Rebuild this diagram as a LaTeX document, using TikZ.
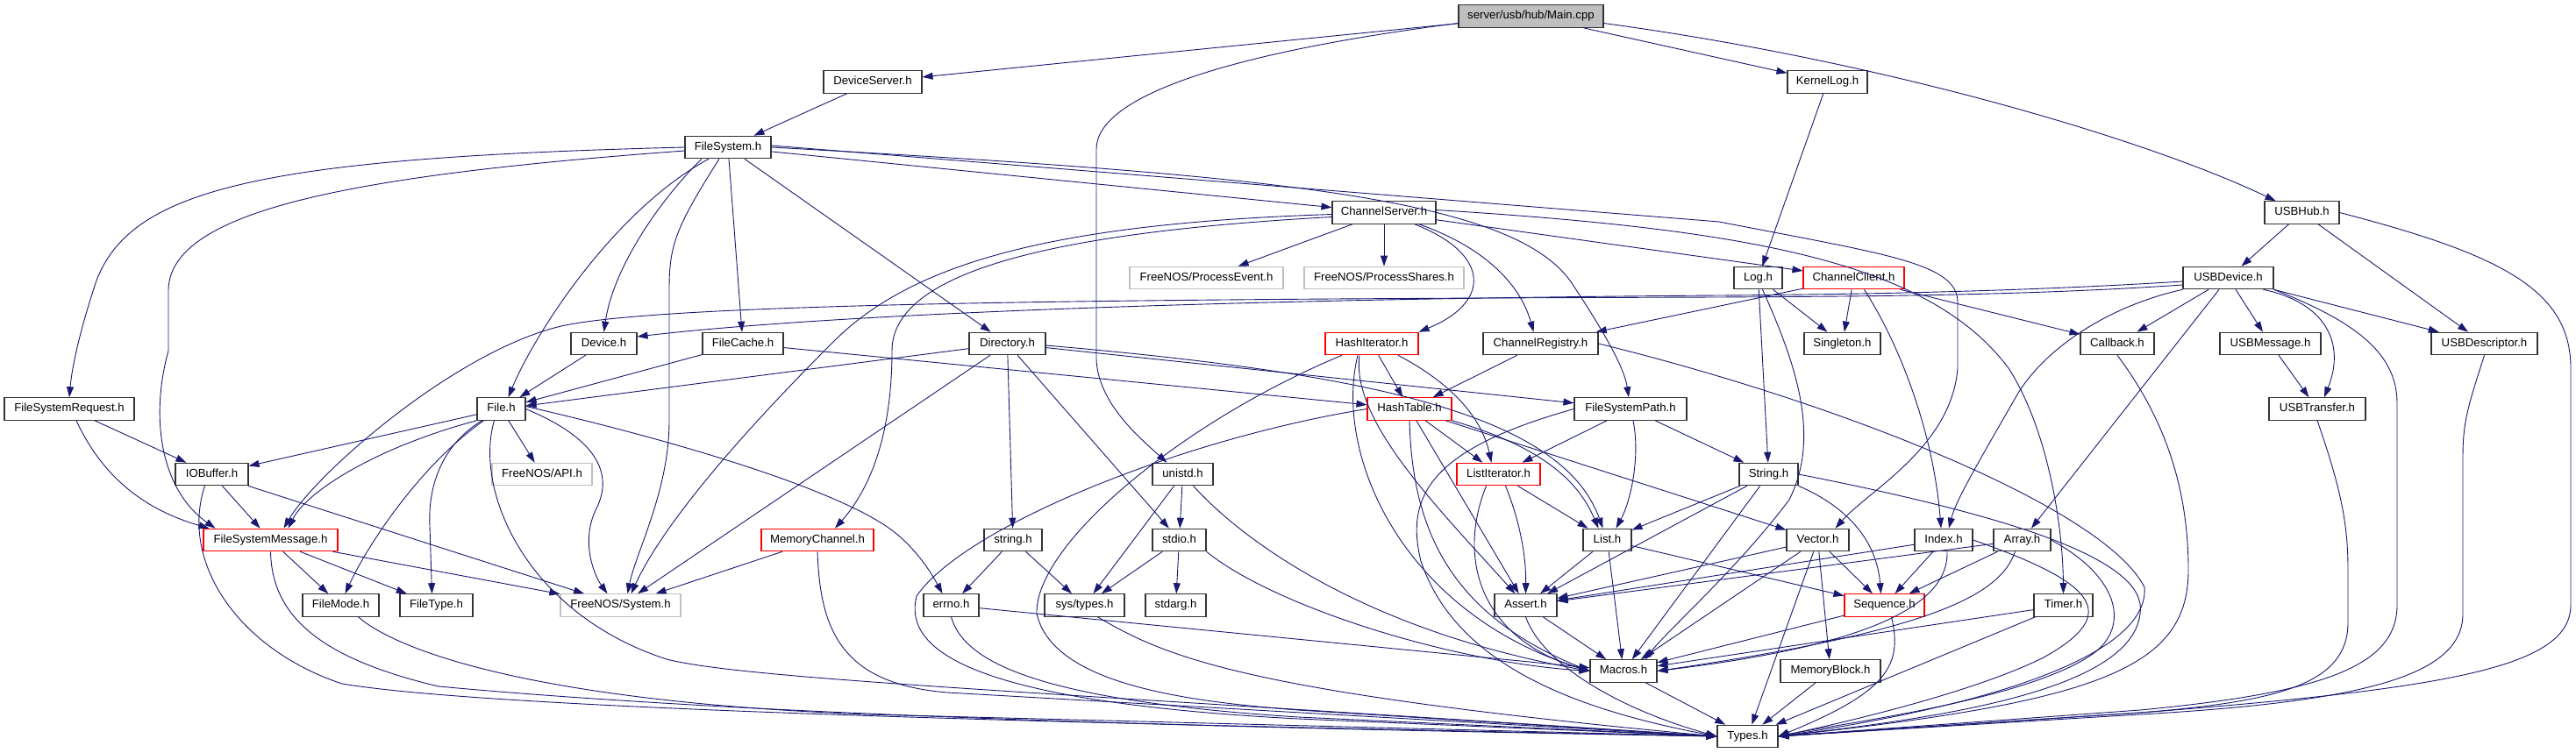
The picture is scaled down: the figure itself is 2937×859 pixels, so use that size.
\documentclass[tikz,border=0pt]{standalone}
\usepackage{fontspec}
\setmainfont{Liberation Sans}
\usetikzlibrary{arrows.meta}
\definecolor{edgecol}{HTML}{191970}
\definecolor{graybd}{HTML}{BFBFBF}
\definecolor{mainfill}{HTML}{BFBFBF}
\tikzset{
  hdr/.style={draw=black!80, line width=1.1pt, fill=white, minimum height=25.5pt, inner sep=0pt,
    font=\fontsize{13.2}{15}\selectfont, text=black, text height=9.6pt, text depth=2.8pt},
  redhdr/.style={hdr, draw=red},
  sysbox/.style={hdr, draw=graybd},
  rootbox/.style={hdr, fill=mainfill},
  dep/.style={draw=edgecol, line width=0.9pt, -{Triangle[length=12pt,width=8pt]}},
}
\begin{document}
\begin{tikzpicture}[x=1pt,y=-1pt]
\useasboundingbox (0,0) rectangle (2937,859);
% ---- nodes
\node[rootbox, minimum width=165pt] (main) at (1745.5,18.5) {server/usb/hub/Main.cpp};
\node[hdr, minimum width=112pt] (devserver) at (995,93.5) {DeviceServer.h};
\node[hdr, minimum width=91pt] (kernellog) at (2083.5,93.5) {KernelLog.h};
\node[hdr, minimum width=98pt] (filesystem) at (830,168) {FileSystem.h};
\node[hdr, minimum width=118pt] (chanserver) at (1578,242.5) {ChannelServer.h};
\node[hdr, minimum width=85pt] (usbhub) at (2624.5,242.5) {USBHub.h};
\node[sysbox, minimum width=175pt] (procevent) at (1375.5,317) {FreeNOS/ProcessEvent.h};
\node[sysbox, minimum width=182pt] (procshares) at (1578,317) {FreeNOS/ProcessShares.h};
\node[hdr, minimum width=55pt] (log) at (2004.5,317) {Log.h};
\node[redhdr, minimum width=115pt] (chanclient) at (2113.5,317) {ChannelClient.h};
\node[hdr, minimum width=103pt] (usbdevice) at (2540.5,317) {USBDevice.h};
\node[hdr, minimum width=75pt] (device) at (688.5,392) {Device.h};
\node[hdr, minimum width=92pt] (filecache) at (847,392) {FileCache.h};
\node[hdr, minimum width=87pt] (directory) at (1148.5,392) {Directory.h};
\node[redhdr, minimum width=106pt] (hashiter) at (1564,392) {HashIterator.h};
\node[hdr, minimum width=131pt] (chanreg) at (1756.5,392) {ChannelRegistry.h};
\node[hdr, minimum width=87pt] (singleton) at (2100.5,392) {Singleton.h};
\node[hdr, minimum width=84pt] (callback) at (2414,392) {Callback.h};
\node[hdr, minimum width=115pt] (usbmessage) at (2588.5,392) {USBMessage.h};
\node[hdr, minimum width=121pt] (usbdesc) at (2832.5,392) {USBDescriptor.h};
\node[hdr, minimum width=148pt] (fsrequest) at (79,466.5) {FileSystemRequest.h};
\node[hdr, minimum width=55pt] (file) at (571.5,466.5) {File.h};
\node[redhdr, minimum width=96pt] (hashtable) at (1607,466.5) {HashTable.h};
\node[hdr, minimum width=128pt] (fspath) at (1859,466.5) {FileSystemPath.h};
\node[hdr, minimum width=110pt] (usbtransfer) at (2642,466.5) {USBTransfer.h};
\node[hdr, minimum width=83pt] (iobuffer) at (241.5,541) {IOBuffer.h};
\node[sysbox, minimum width=114pt] (api) at (618,541) {FreeNOS/API.h};
\node[hdr, minimum width=69pt] (unistd) at (1348.5,541) {unistd.h};
\node[redhdr, minimum width=95pt] (listiter) at (1708.5,541) {ListIterator.h};
\node[hdr, minimum width=67pt] (string) at (2016.5,541) {String.h};
\node[redhdr, minimum width=153pt] (fsmessage) at (308.5,616) {FileSystemMessage.h};
\node[redhdr, minimum width=128pt] (memchan) at (932,616) {MemoryChannel.h};
\node[hdr, minimum width=66pt] (cstring) at (1155,616) {string.h};
\node[hdr, minimum width=61pt] (stdio) at (1344.5,616) {stdio.h};
\node[hdr, minimum width=55pt] (list) at (1832.5,616) {List.h};
\node[hdr, minimum width=71pt] (vector) at (2072.5,616) {Vector.h};
\node[hdr, minimum width=66pt] (index) at (2216,616) {Index.h};
\node[hdr, minimum width=65pt] (array) at (2305.5,616) {Array.h};
\node[hdr, minimum width=87pt] (filemode) at (388.5,690.5) {FileMode.h};
\node[hdr, minimum width=83pt] (filetype) at (497.5,690.5) {FileType.h};
\node[sysbox, minimum width=137pt] (system) at (707.5,690.5) {FreeNOS/System.h};
\node[hdr, minimum width=63pt] (errno) at (1084.5,690.5) {errno.h};
\node[hdr, minimum width=91pt] (systypes) at (1236.5,690.5) {sys/types.h};
\node[hdr, minimum width=69pt] (stdarg) at (1340.5,690.5) {stdarg.h};
\node[hdr, minimum width=71pt] (assert) at (1739.5,690.5) {Assert.h};
\node[redhdr, minimum width=91pt] (sequence) at (2148.5,690.5) {Sequence.h};
\node[hdr, minimum width=67pt] (timer) at (2352.5,690.5) {Timer.h};
\node[hdr, minimum width=76pt] (macros) at (1851,765.5) {Macros.h};
\node[hdr, minimum width=114pt] (memblock) at (2087,765.5) {MemoryBlock.h};
\node[hdr, minimum width=69pt] (types) at (1992.5,840) {Types.h};

% ---- edges: Main.cpp
\draw[dep] (main) -- (devserver);
\draw[dep] ([yshift=-8pt]main.west) .. controls (1400,60) and (1250,110) .. (1250,170) -- (1250,410) .. controls (1252,460) and (1300,500) .. ([xshift=-18pt]unistd.north);
\draw[dep] (main) -- (kernellog);
\draw[dep] ([yshift=-8pt]main.east) .. controls (2150,70) and (2450,160) .. ([xshift=-30pt]usbhub.north);
\draw[dep] (devserver) -- (filesystem);
\draw[dep] (kernellog) -- (log);
% FileSystem.h
\draw[dep] (filesystem) -- (chanserver);
\draw[dep] (filesystem.east) .. controls (1450,200) and (1720,225) .. (1790,320) .. controls (1830,380) and (1852,420) .. ([xshift=-2pt]fspath.north);
\draw[dep] ([yshift=2pt]filesystem.east) -- (1960,253) .. controls (2150,290) and (2232,300) .. (2232,345) -- (2232,420) .. controls (2225,510) and (2130,560) .. ([xshift=20pt]vector.north);
\draw[dep] (filesystem.west) .. controls (300,180) and (150,215) .. (110,320) .. controls (90,380) and (82,420) .. (fsrequest.north);
\draw[dep] ([yshift=-4pt]filesystem.west) .. controls (400,200) and (195,240) .. (192,330) -- (192,400) .. controls (170,480) and (185,560) .. ([xshift=-63pt]fsmessage.north);
\draw[dep] ([xshift=-30pt]filesystem.south) .. controls (760,220) and (700,300) .. (device.north);
\draw[dep] ([xshift=-22pt]filesystem.south) .. controls (700,240) and (610,380) .. ([xshift=8pt]file.north);
\draw[dep] ([xshift=-10pt]filesystem.south) .. controls (770,260) and (763,280) .. (763,330) -- (763,480) .. controls (763,560) and (725,630) .. ([xshift=8pt]system.north);
\draw[dep] (filesystem) -- (filecache);
\draw[dep] (filesystem) -- (directory);
% ChannelServer.h
\draw[dep] (chanserver) -- (procevent);
\draw[dep] (chanserver) -- (procshares);
\draw[dep] ([xshift=35pt]chanserver.south) .. controls (1700,290) and (1700,345) .. (hashiter.north east);
\draw[dep] ([xshift=40pt]chanserver.south) .. controls (1700,285) and (1735,330) .. ([xshift=-8pt]chanreg.north);
\draw[dep] (chanserver) -- (chanclient);
\draw[dep] ([yshift=3pt]chanserver.east) .. controls (2000,262) and (2200,300) .. (2290,420) .. controls (2335,490) and (2352,600) .. (timer.north);
\draw[dep] ([yshift=-2pt]chanserver.west) .. controls (1200,255) and (1040,300) .. (950,390) .. controls (860,480) and (760,590) .. ([xshift=12pt]system.north);
\draw[dep] ([yshift=-5pt]chanserver.west) .. controls (1200,265) and (1017,310) .. (1017,400) .. controls (1017,500) and (990,560) .. ([xshift=20pt]memchan.north);
% Log.h, ChannelClient.h
\draw[dep] (log) -- (singleton);
\draw[dep] (log) -- (string);
\draw[dep] ([xshift=5pt]log.south) .. controls (2050,420) and (2075,500) .. (2040,570) .. controls (1980,650) and (1900,720) .. ([xshift=25pt]macros.north);
\draw[dep] (chanclient) -- (chanreg);
\draw[dep] (chanclient) -- (singleton);
\draw[dep] (chanclient) -- (callback);
\draw[dep] ([xshift=12pt]chanclient.south) .. controls (2170,400) and (2205,500) .. ([xshift=-3pt]index.north);
% USBHub.h, USBDevice.h
\draw[dep] (usbhub) -- (usbdevice);
\draw[dep] (usbhub) -- (usbdesc);
\draw[dep] (usbhub.east) .. controls (2850,290) and (2931,330) .. (2931,420) -- (2931,690) .. controls (2931,760) and (2800,785) .. (2440,813) -- (types.east);
\draw[dep] (usbdevice) -- (usbmessage);
\draw[dep] (usbdevice) -- (usbdesc);
\draw[dep] (usbdevice) -- (callback);
\draw[dep] (usbdevice) -- (array);
\draw[dep] (usbdevice.south west) .. controls (2400,350) and (2330,400) .. (2300,450) .. controls (2260,520) and (2230,570) .. ([xshift=6pt]index.north);
\draw[dep] ([xshift=40pt]usbdevice.south) .. controls (2650,345) and (2675,390) .. ([xshift=8pt]usbtransfer.north);
\draw[dep] (usbdevice.south east) .. controls (2680,365) and (2733,400) .. (2733,460) -- (2733,690) .. controls (2733,760) and (2650,790) .. (2440,810) -- (types.east);
\draw[dep] ([yshift=-4pt]usbdevice.west) .. controls (2300,333) and (2100,336) .. (1960,337) .. controls (1400,341) and (950,358) .. ([yshift=8pt]device.east);
\draw[dep] ([yshift=-8pt]usbdevice.west) .. controls (2300,338) and (2100,338) .. (1960,339) .. controls (1300,341) and (760,345) .. (640,372) .. controls (520,400) and (360,540) .. ([xshift=15pt]fsmessage.north);
\draw[dep] (usbmessage) -- (usbtransfer);
\draw[dep] (usbtransfer.south) .. controls (2670,560) and (2677,600) .. (2677,650) -- (2677,710) .. controls (2677,780) and (2600,800) .. (2440,813) -- (types.east);
\draw[dep] (usbdesc.south) .. controls (2815,460) and (2808,480) .. (2808,520) -- (2808,700) .. controls (2808,770) and (2700,800) .. (2440,815) -- (types.east);
\draw[dep] (callback.south) .. controls (2470,480) and (2495,560) .. (2495,650) .. controls (2495,760) and (2400,800) .. (types.east);
% ChannelRegistry.h, HashIterator.h, HashTable.h
\draw[dep] (chanreg) -- (hashtable);
\draw[dep] (chanreg.east) .. controls (2100,460) and (2400,580) .. (2445,670) .. controls (2450,740) and (2300,800) .. (types.east);
\draw[dep] (hashiter) -- (hashtable);
\draw[dep] ([xshift=30pt]hashiter.south) .. controls (1660,440) and (1690,480) .. ([xshift=-8pt]listiter.north);
\draw[dep] ([xshift=-14pt]hashiter.south) .. controls (1540,480) and (1640,580) .. ([xshift=-12pt]assert.north);
\draw[dep] ([xshift=-16pt]hashiter.south) .. controls (1520,520) and (1600,700) .. (macros.west);
\draw[dep] ([xshift=-34pt]hashiter.south) .. controls (1350,480) and (1180,620) .. (1182,700) .. controls (1200,780) and (1350,800) .. (1480,810) -- (types.west);
\draw[dep] (hashtable) -- (listiter);
\draw[dep] (hashtable.south east) .. controls (1760,510) and (1800,550) .. ([xshift=-10pt]list.north);
\draw[dep] (hashtable) -- (assert);
\draw[dep] (hashtable.south) .. controls (1610,600) and (1650,700) .. (macros.west);
\draw[dep] (hashtable) -- (vector);
\draw[dep] (hashtable.west) .. controls (1350,500) and (1100,600) .. (1045,680) .. controls (1030,740) and (1100,800) .. (1480,820) -- (types.west);
% FileSystemPath.h, Directory.h, FileCache.h, Device.h
\draw[dep] (fspath) -- (listiter);
\draw[dep] ([xshift=3pt]fspath.south) .. controls (1870,520) and (1860,570) .. ([xshift=10pt]list.north);
\draw[dep] (fspath) -- (string);
\draw[dep] (fspath.west) .. controls (1640,510) and (1600,560) .. (1620,640) .. controls (1660,760) and (1800,810) .. (types.west);
\draw[dep] (directory) -- (file);
\draw[dep] (directory) -- (system);
\draw[dep] (directory) -- (cstring);
\draw[dep] (directory) -- (stdio);
\draw[dep] (directory) -- (fspath);
\draw[dep] ([yshift=-2pt]directory.east) .. controls (1550,425) and (1780,470) .. ([xshift=-5pt]list.north);
\draw[dep] (filecache) -- (file);
\draw[dep] (filecache) -- (hashtable);
\draw[dep] (device) -- (file);
% File.h
\draw[dep] (file) -- (iobuffer);
\draw[dep] (file.south west) .. controls (430,510) and (350,560) .. ([xshift=20pt]fsmessage.north);
\draw[dep] ([xshift=-20pt]file.south) .. controls (480,530) and (420,620) .. ([xshift=5pt]filemode.north);
\draw[dep] ([xshift=-22pt]file.south) .. controls (500,510) and (488,560) .. (490,600) -- ([xshift=-5pt]filetype.north);
\draw[dep] (file) -- (api);
\draw[dep] (file.east) .. controls (680,500) and (700,540) .. (680,580) .. controls (660,620) and (680,660) .. ([xshift=-15pt]system.north);
\draw[dep] ([yshift=3pt]file.east) .. controls (800,510) and (950,560) .. (1010,600) .. controls (1040,620) and (1060,650) .. ([xshift=-10pt]errno.north);
\draw[dep] ([xshift=-8pt]file.south) .. controls (540,560) and (600,700) .. (760,752) .. controls (850,775) and (1200,790) .. (types.west);
% IOBuffer, FileSystemMessage, FileSystemRequest, FileMode, MemoryChannel
\draw[dep] (iobuffer) -- (fsmessage);
\draw[dep] (iobuffer) -- (system);
\draw[dep] ([xshift=-8pt]iobuffer.south) .. controls (205,640) and (270,740) .. (390,780) .. controls (600,815) and (1500,830) .. (types.west);
\draw[dep] (fsmessage) -- (filemode);
\draw[dep] (fsmessage) -- (filetype);
\draw[dep] (fsmessage) -- (system);
\draw[dep] (fsmessage.south) .. controls (310,700) and (360,750) .. (500,783) .. controls (900,820) and (1500,832) .. (types.west);
\draw[dep] (fsrequest) -- (iobuffer);
\draw[dep] ([xshift=8pt]fsrequest.south) .. controls (115,540) and (160,580) .. ([xshift=-70pt]fsmessage.north);
\draw[dep] ([xshift=20pt]filemode.south) .. controls (450,740) and (600,800) .. (990,815) -- (types.west);
\draw[dep] (memchan) -- (system);
\draw[dep] (memchan.south) .. controls (935,720) and (960,780) .. (1080,790) -- (types.west);
% libc
\draw[dep] (cstring) -- (errno);
\draw[dep] (cstring) -- (systypes);
\draw[dep] (unistd) -- (systypes);
\draw[dep] (unistd) -- (stdio);
\draw[dep] ([xshift=12pt]unistd.south) .. controls (1420,620) and (1560,720) .. (macros.west);
\draw[dep] (stdio) -- (systypes);
\draw[dep] (stdio) -- (stdarg);
\draw[dep] (stdio.south east) .. controls (1450,690) and (1650,755) .. (macros.west);
\draw[dep] (errno) -- (macros);
\draw[dep] (errno.south) .. controls (1100,760) and (1200,800) .. (1480,818) -- (types.west);
\draw[dep] ([xshift=15pt]systypes.south) .. controls (1330,750) and (1420,790) .. (types.west);
% libstd
\draw[dep] (listiter) -- (list);
\draw[dep] ([xshift=8pt]listiter.south) .. controls (1735,600) and (1740,640) .. (assert.north);
\draw[dep] ([xshift=-14pt]listiter.south) .. controls (1660,640) and (1690,730) .. (macros.west);
\draw[dep] (string) -- (list);
\draw[dep] (string) -- (assert);
\draw[dep] (string) -- (macros);
\draw[dep] (string.south east) .. controls (2110,580) and (2140,620) .. ([xshift=-4pt]sequence.north);
\draw[dep] (string.east) .. controls (2300,590) and (2450,640) .. (2440,700) .. controls (2430,790) and (2200,820) .. (types.east);
\draw[dep] (list) -- (assert);
\draw[dep] (list) -- (macros);
\draw[dep] (list) -- (sequence);
\draw[dep] (vector) -- (assert);
\draw[dep] (vector) -- (macros);
\draw[dep] (vector) -- (sequence);
\draw[dep] (vector) -- (memblock);
\draw[dep] (vector) -- (types);
\draw[dep] (index) -- (assert);
\draw[dep] (index) -- (sequence);
\draw[dep] ([xshift=4pt]index.south) .. controls (2222,700) and (2100,740) .. (macros.east);
\draw[dep] (index.east) .. controls (2390,665) and (2420,700) .. (2330,750) .. controls (2250,790) and (2100,825) .. (types.east);
\draw[dep] (array) -- (assert);
\draw[dep] (array) -- (sequence);
\draw[dep] ([xshift=-8pt]array.south) .. controls (2280,680) and (2200,720) .. (macros.east);
\draw[dep] (array.east) .. controls (2420,660) and (2430,720) .. (2380,750) .. controls (2300,800) and (2100,825) .. (types.east);
\draw[dep] (timer) -- (macros);
\draw[dep] (timer) -- (types);
\draw[dep] (sequence) -- (macros);
\draw[dep] ([xshift=8pt]sequence.south) .. controls (2170,760) and (2150,790) .. (types.east);
\draw[dep] (assert) -- (macros);
\draw[dep] (assert.south) .. controls (1760,760) and (1850,810) .. (types.west);
\draw[dep] (memblock) -- (types);
\draw[dep] (macros) -- (types);
\end{tikzpicture}
\end{document}
